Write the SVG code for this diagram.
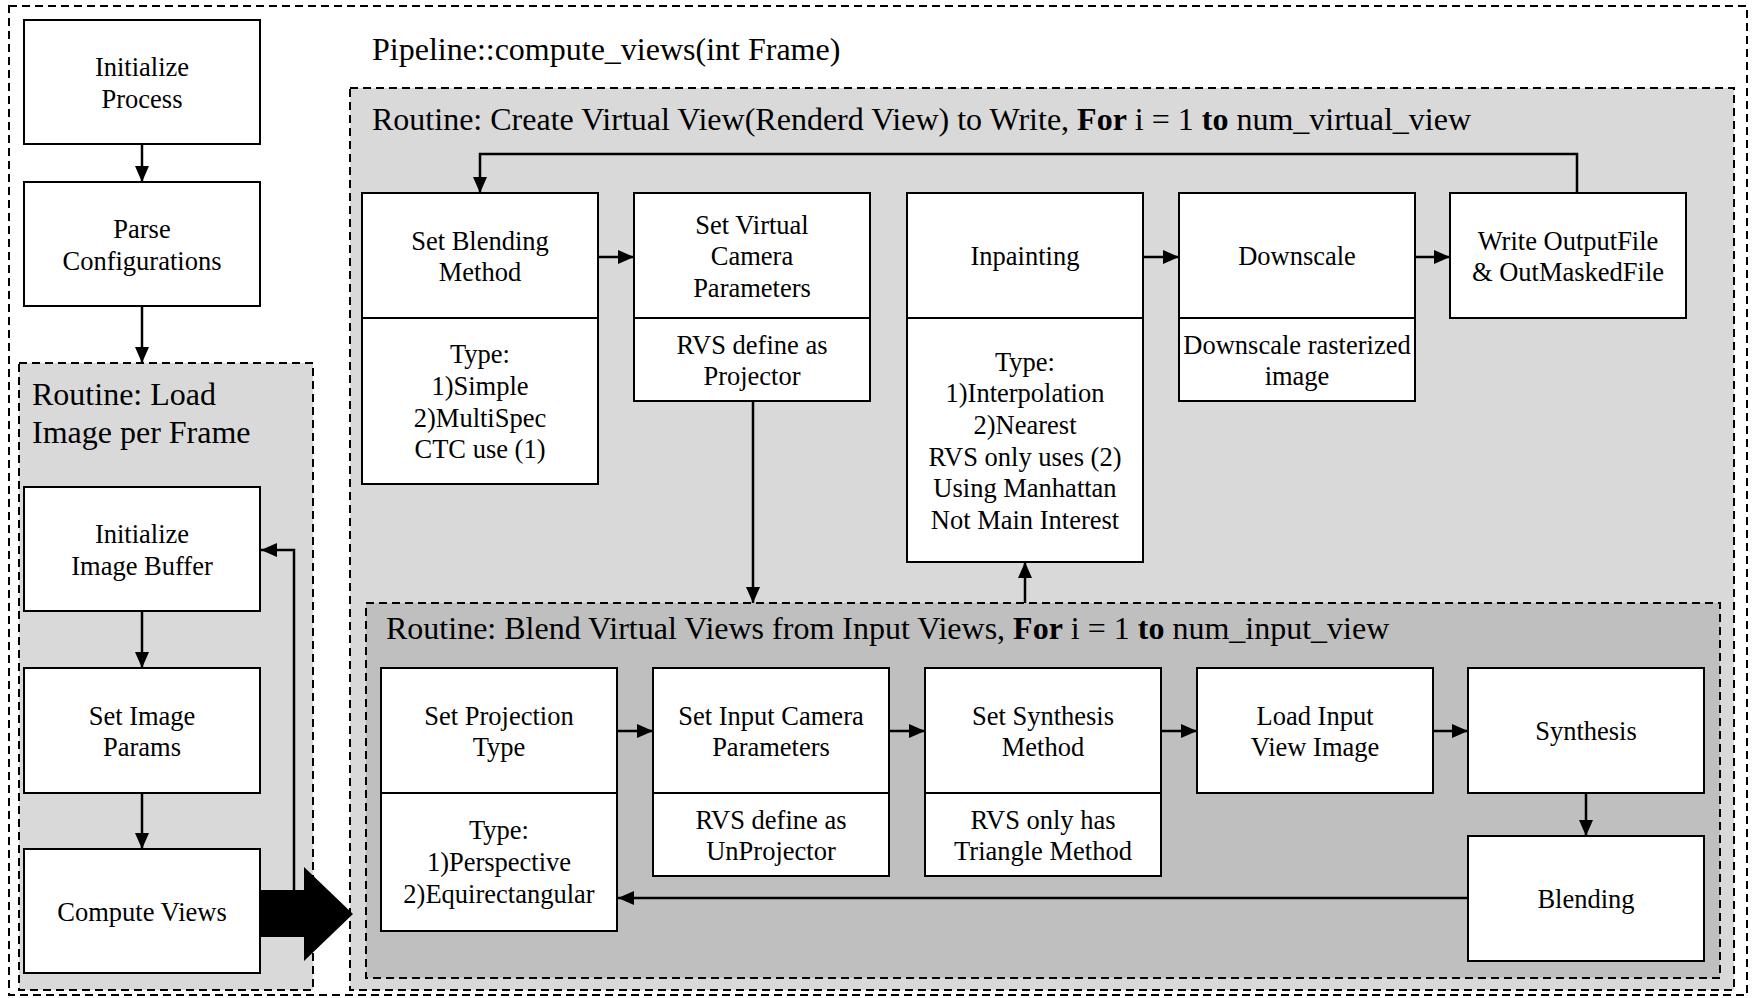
<svg xmlns="http://www.w3.org/2000/svg" width="1752" height="998" viewBox="0 0 1752 998" font-family="'Liberation Serif', 'Times New Roman', Times, 'DejaVu Serif', serif">
  <defs>
    <style>
      .frame { fill: #ffffff; stroke: #000; stroke-width: 2; stroke-dasharray: 8 5; }
      .light { fill: #d9d9d9; stroke: #000; stroke-width: 2; stroke-dasharray: 8 5; }
      .dark { fill: #bfbfbf; stroke: #000; stroke-width: 2; stroke-dasharray: 8 5; }
      .box { fill: #ffffff; stroke: #000; stroke-width: 2; }
      .sep { stroke: #000; stroke-width: 2; }
      .wire { fill: none; stroke: #000; stroke-width: 2.5; }
      text { font-family: 'Liberation Serif', 'Times New Roman', Times, 'DejaVu Serif', serif; fill: #000; }
      .n { font-size: 26.5px; text-anchor: middle; }
      .t { font-size: 32px; }
      .b { font-weight: bold; }
    </style>
    <marker id="arrow" markerUnits="userSpaceOnUse" markerWidth="16" markerHeight="14" viewBox="0 0 16 14" refX="16" refY="7" orient="auto">
      <path d="M0,0 L16,7 L0,14 z" fill="#000"/>
    </marker>
  </defs>

  <!-- outer frame -->
  <rect class="frame" x="9" y="6" width="1738" height="989"/>

  <!-- containers -->
  <g id="load-routine">
    <rect class="light" x="19" y="363" width="294" height="627"/>
    <text class="t" x="32" y="405">Routine: Load</text>
    <text class="t" x="32" y="443">Image per Frame</text>
  </g>
  <text class="t" x="372" y="60">Pipeline::compute_views(int Frame)</text>
  <g id="create-routine">
    <rect class="light" x="350" y="88" width="1384" height="902"/>
    <text class="t" x="372" y="130">Routine: Create Virtual View(Renderd View) to Write, <tspan class="b">For</tspan> i = 1 <tspan class="b">to</tspan> num_virtual_view</text>
  </g>
  <g id="blend-routine">
    <rect class="dark" x="366" y="603" width="1354" height="375"/>
    <text class="t" x="386" y="639">Routine: Blend Virtual Views from Input Views, <tspan class="b">For</tspan> i = 1 <tspan class="b">to</tspan> num_input_view</text>
  </g>

  <!-- left column -->
  <g id="init-process">
    <rect class="box" x="24" y="20" width="236" height="124"/>
    <text class="n" x="142" y="76">Initialize</text>
    <text class="n" x="142" y="108">Process</text>
  </g>
  <g id="parse-config">
    <rect class="box" x="24" y="182" width="236" height="124"/>
    <text class="n" x="142" y="238">Parse</text>
    <text class="n" x="142" y="270">Configurations</text>
  </g>
  <g id="init-buffer">
    <rect class="box" x="24" y="487" width="236" height="124"/>
    <text class="n" x="142" y="543">Initialize</text>
    <text class="n" x="142" y="575">Image Buffer</text>
  </g>
  <g id="set-image-params">
    <rect class="box" x="24" y="668" width="236" height="125"/>
    <text class="n" x="142" y="725">Set Image</text>
    <text class="n" x="142" y="756">Params</text>
  </g>
  <g id="compute-views">
    <rect class="box" x="24" y="849" width="236" height="124"/>
    <text class="n" x="142" y="921">Compute Views</text>
  </g>

  <!-- virtual view row -->
  <g id="set-blending">
    <rect class="box" x="362" y="193" width="236" height="291"/>
    <line class="sep" x1="362" y1="318" x2="598" y2="318"/>
    <text class="n" x="480" y="250">Set Blending</text>
    <text class="n" x="480" y="281">Method</text>
    <text class="n" x="480" y="363">Type:</text>
    <text class="n" x="480" y="395">1)Simple</text>
    <text class="n" x="480" y="427">2)MultiSpec</text>
    <text class="n" x="480" y="458">CTC use (1)</text>
  </g>
  <g id="set-virtual-camera">
    <rect class="box" x="634" y="193" width="236" height="208"/>
    <line class="sep" x1="634" y1="318" x2="870" y2="318"/>
    <text class="n" x="752" y="234">Set Virtual</text>
    <text class="n" x="752" y="265">Camera</text>
    <text class="n" x="752" y="297">Parameters</text>
    <text class="n" x="752" y="354">RVS define as</text>
    <text class="n" x="752" y="385">Projector</text>
  </g>
  <g id="inpainting">
    <rect class="box" x="907" y="193" width="236" height="369"/>
    <line class="sep" x1="907" y1="318" x2="1143" y2="318"/>
    <text class="n" x="1025" y="265">Inpainting</text>
    <text class="n" x="1025" y="371">Type:</text>
    <text class="n" x="1025" y="402">1)Interpolation</text>
    <text class="n" x="1025" y="434">2)Nearest</text>
    <text class="n" x="1025" y="466">RVS only uses (2)</text>
    <text class="n" x="1025" y="497">Using Manhattan</text>
    <text class="n" x="1025" y="529">Not Main Interest</text>
  </g>
  <g id="downscale">
    <rect class="box" x="1179" y="193" width="236" height="208"/>
    <line class="sep" x1="1179" y1="318" x2="1415" y2="318"/>
    <text class="n" x="1297" y="265">Downscale</text>
    <text class="n" x="1297" y="354">Downscale rasterized</text>
    <text class="n" x="1297" y="385">image</text>
  </g>
  <g id="write-output">
    <rect class="box" x="1450" y="193" width="236" height="125"/>
    <text class="n" x="1568" y="250">Write OutputFile</text>
    <text class="n" x="1568" y="281">&amp; OutMaskedFile</text>
  </g>

  <!-- input view row -->
  <g id="set-projection">
    <rect class="box" x="381" y="668" width="236" height="263"/>
    <line class="sep" x1="381" y1="793" x2="617" y2="793"/>
    <text class="n" x="499" y="725">Set Projection</text>
    <text class="n" x="499" y="756">Type</text>
    <text class="n" x="499" y="839">Type:</text>
    <text class="n" x="499" y="871">1)Perspective</text>
    <text class="n" x="499" y="903">2)Equirectangular</text>
  </g>
  <g id="set-input-camera">
    <rect class="box" x="653" y="668" width="236" height="208"/>
    <line class="sep" x1="653" y1="793" x2="889" y2="793"/>
    <text class="n" x="771" y="725">Set Input Camera</text>
    <text class="n" x="771" y="756">Parameters</text>
    <text class="n" x="771" y="829">RVS define as</text>
    <text class="n" x="771" y="860">UnProjector</text>
  </g>
  <g id="set-synthesis">
    <rect class="box" x="925" y="668" width="236" height="208"/>
    <line class="sep" x1="925" y1="793" x2="1161" y2="793"/>
    <text class="n" x="1043" y="725">Set Synthesis</text>
    <text class="n" x="1043" y="756">Method</text>
    <text class="n" x="1043" y="829">RVS only has</text>
    <text class="n" x="1043" y="860">Triangle Method</text>
  </g>
  <g id="load-input-view">
    <rect class="box" x="1197" y="668" width="236" height="125"/>
    <text class="n" x="1315" y="725">Load Input</text>
    <text class="n" x="1315" y="756">View Image</text>
  </g>
  <g id="synthesis">
    <rect class="box" x="1468" y="668" width="236" height="125"/>
    <text class="n" x="1586" y="740">Synthesis</text>
  </g>
  <g id="blending">
    <rect class="box" x="1468" y="836" width="236" height="125"/>
    <text class="n" x="1586" y="908">Blending</text>
  </g>

  <!-- connectors -->
  <g id="connectors" class="wire">
    <line x1="142" y1="144" x2="142" y2="182" marker-end="url(#arrow)"/>
    <line x1="142" y1="306" x2="142" y2="363" marker-end="url(#arrow)"/>
    <line x1="142" y1="611" x2="142" y2="668" marker-end="url(#arrow)"/>
    <line x1="142" y1="793" x2="142" y2="849" marker-end="url(#arrow)"/>
    <polyline points="294,890 294,550 261,550" marker-end="url(#arrow)"/>

    <line x1="598" y1="257" x2="634" y2="257" marker-end="url(#arrow)"/>
    <line x1="1143" y1="257" x2="1179" y2="257" marker-end="url(#arrow)"/>
    <line x1="1415" y1="257" x2="1450" y2="257" marker-end="url(#arrow)"/>
    <polyline points="1577,193 1577,154 480,154 480,193" marker-end="url(#arrow)"/>
    <line x1="753" y1="401" x2="753" y2="603" marker-end="url(#arrow)"/>
    <line x1="1025" y1="603" x2="1025" y2="562" marker-end="url(#arrow)"/>

    <line x1="617" y1="731" x2="653" y2="731" marker-end="url(#arrow)"/>
    <line x1="889" y1="731" x2="925" y2="731" marker-end="url(#arrow)"/>
    <line x1="1161" y1="731" x2="1197" y2="731" marker-end="url(#arrow)"/>
    <line x1="1433" y1="731" x2="1468" y2="731" marker-end="url(#arrow)"/>
    <line x1="1586" y1="793" x2="1586" y2="836" marker-end="url(#arrow)"/>
    <line x1="1468" y1="898" x2="618" y2="898" marker-end="url(#arrow)"/>

    <!-- hand-off from the per-frame loop into compute_views -->
    <polygon points="260,890 304,890 304,867 353,914 304,961 304,937 260,937" fill="#000" stroke="none"/>
  </g>
</svg>
